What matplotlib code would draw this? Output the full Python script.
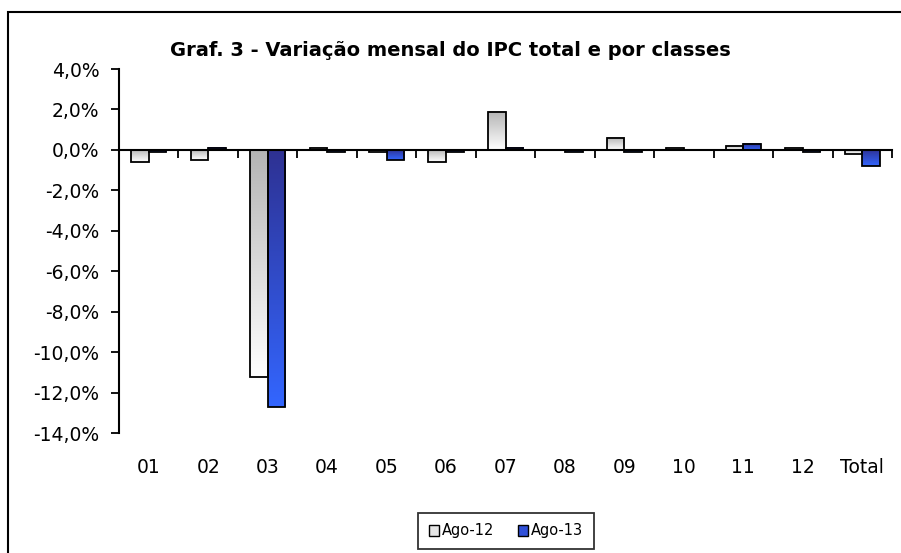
import numpy as np
import matplotlib
matplotlib.use("Agg")
import matplotlib.pyplot as plt
from matplotlib.patches import Patch, Rectangle
from matplotlib.colors import LinearSegmentedColormap

categories = ['01', '02', '03', '04', '05', '06', '07', '08', '09', '10', '11', '12', 'Total']
ago12 = [-0.6, -0.5, -11.2, 0.1, -0.1, -0.6, 1.9, 0.0, 0.6, 0.1, 0.2, 0.1, -0.2]
ago13 = [-0.1, 0.1, -12.7, -0.1, -0.5, -0.1, 0.1, -0.1, -0.1, 0.0, 0.3, -0.1, -0.8]
yticks = [4, 2, 0, -2, -4, -6, -8, -10, -12, -14]

plt.rcParams['font.family'] = ['DejaVu Sans']

# gradients: first colour = top of bar, last = bottom
cmap12 = LinearSegmentedColormap.from_list('g12', ['#b4b4b4', '#ffffff'])
cmap13 = LinearSegmentedColormap.from_list('g13', ['#2e3192', '#3366ff'])

fig = plt.figure(figsize=(9.01, 5.53), dpi=100)
ax = fig.add_axes([119/901, 1 - 433.3/553, (892 - 119)/901, (433.3 - 69)/553])

# outer chart border (runs off right and bottom)
fig.patches.append(Rectangle((8/901, -0.1), 1.2, 1 - 12/553 + 0.1, transform=fig.transFigure,
                             fill=False, edgecolor='black', linewidth=1.5, clip_on=False))

x = np.arange(len(categories))
w = 0.295
bars12 = ax.bar(x - w/2, ago12, w, facecolor='none', edgecolor='black', linewidth=1.3, zorder=3)
bars13 = ax.bar(x + w/2, ago13, w, facecolor='none', edgecolor='black', linewidth=1.3, zorder=3)

grad = np.linspace(0, 1, 256).reshape(-1, 1)
for bars, cm in [(bars12, cmap12), (bars13, cmap13)]:
    for b in bars:
        x0 = b.get_x()
        y0, h = b.get_y(), b.get_height()
        if h == 0:
            continue
        top, bot = max(y0, y0 + h), min(y0, y0 + h)
        ax.imshow(grad, cmap=cm, extent=(x0, x0 + b.get_width(), bot, top),
                  aspect='auto', origin='upper', zorder=2, interpolation='bilinear')

ax.set_xlim(-0.5, len(categories) - 0.5)
ax.set_ylim(-14, 4)

# y axis
ax.set_yticks(yticks)
ax.set_yticklabels([f"{v:.1f}%".replace('.', ',') for v in yticks], fontsize=13.5)
ax.tick_params(axis='y', direction='out', length=6, width=1.3, pad=8)

# x axis line at zero, tick marks between categories
for s in ['top', 'right']:
    ax.spines[s].set_visible(False)
ax.spines['left'].set_linewidth(1.5)
ax.spines['bottom'].set_position(('data', 0))
ax.spines['bottom'].set_linewidth(1.5)
ax.set_xticks(np.arange(len(categories) + 1) - 0.5)
ax.set_xticklabels([])
ax.tick_params(axis='x', direction='out', length=6, width=1.3)

# category labels at the bottom of the plot area
sec = ax.secondary_xaxis(0)
sec.set_xticks(x)
sec.set_xticklabels(categories, fontsize=13.5)
sec.tick_params(length=0, pad=18)
sec.spines['bottom'].set_visible(False)

fig.text(0.5, 1 - 51/553, "Graf. 3 - Variação mensal do IPC total e por classes",
         ha='center', va='center', fontsize=14, fontweight='bold')

legend_elements = [Patch(facecolor='#e6e6e6', edgecolor='black', label='Ago-12'),
                   Patch(facecolor='#3050d8', edgecolor='black', label='Ago-13')]
leg = fig.legend(handles=legend_elements, loc='center', bbox_to_anchor=(506/901, 1 - 531/553),
                 ncol=2, fontsize=10.5, frameon=True, fancybox=False, edgecolor='black',
                 handlelength=0.7, handleheight=0.7, handletextpad=0.2, columnspacing=1.6,
                 borderpad=0.75, borderaxespad=0)
leg.get_frame().set_linewidth(1.3)

fig.savefig('out.png', dpi=100)
